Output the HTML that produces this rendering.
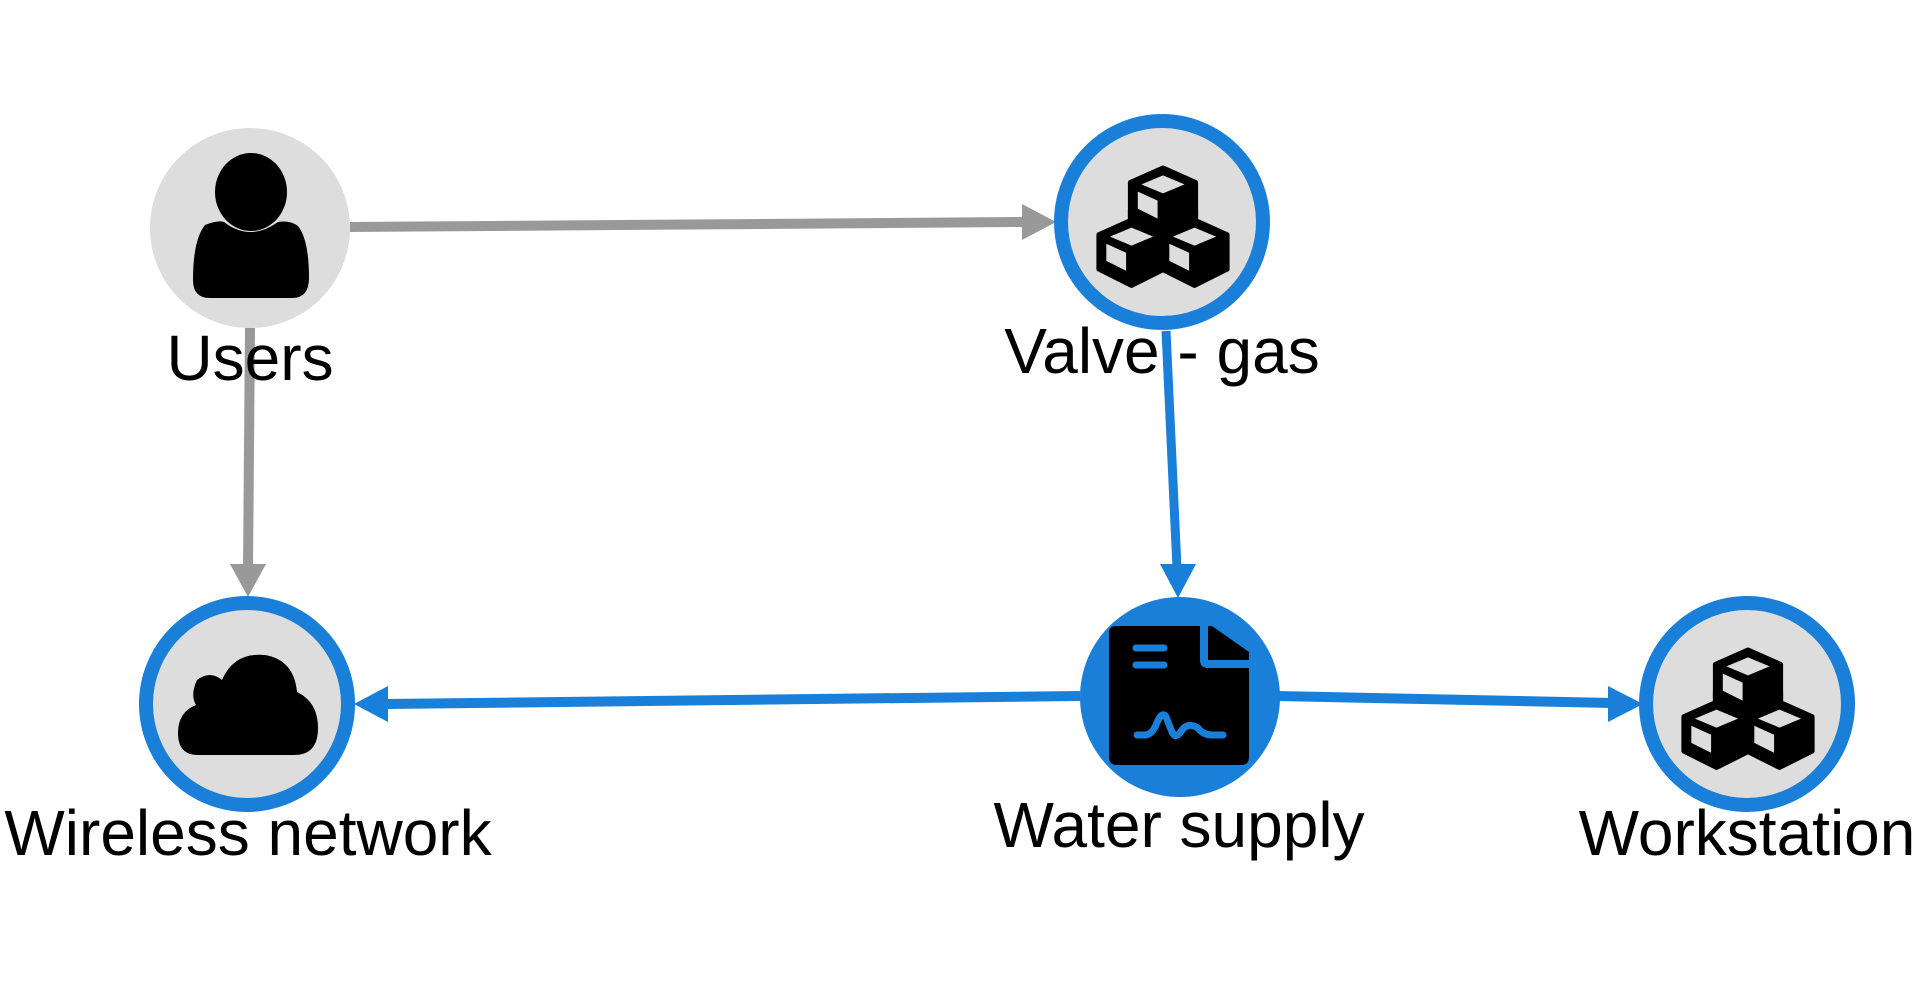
<!DOCTYPE html>
<html><head><meta charset="utf-8"><style>
html,body{margin:0;padding:0;background:#fff;}
svg{display:block;}
text{font-family:"Liberation Sans",Arial,sans-serif;font-size:64px;fill:#000;}
</style></head><body>
<svg width="1920" height="991" viewBox="0 0 1920 991" xmlns="http://www.w3.org/2000/svg">
<defs>
<g id="cubes">
  <g id="cube">
    <polygon points="0,-32 36,-16 36,22 0,40 -36,22 -36,-16" fill="#000" stroke="#000" stroke-width="6" stroke-linejoin="round"/>
    <polygon points="0,-24 24,-14 0,-4 -24,-14" fill="#ddd"/>
    <polygon points="-28,-6 -6,4 -6,24 -28,13" fill="#ddd"/>
  </g>
  <use href="#cube" x="0" y="-30"/>
  <use href="#cube" x="-35" y="28"/>
  <use href="#cube" x="35" y="28"/>
</g>
</defs>

<line x1="350" y1="227" x2="1025" y2="222" stroke="#999" stroke-width="10"/>
<polygon points="1056,222 1022,204 1022,240" fill="#999"/>
<line x1="250" y1="328" x2="248" y2="568" stroke="#999" stroke-width="10"/>
<polygon points="248,597 230,564 266,564" fill="#999"/>
<line x1="1166" y1="331" x2="1177" y2="568" stroke="#1a7fd8" stroke-width="9"/>
<polygon points="1178,598 1160,564 1196,564" fill="#1a7fd8"/>
<line x1="1080" y1="696" x2="385" y2="704" stroke="#1a7fd8" stroke-width="10"/>
<polygon points="354,704 388,686 388,722" fill="#1a7fd8"/>
<line x1="1277" y1="696" x2="1612" y2="703" stroke="#1a7fd8" stroke-width="10"/>
<polygon points="1643,704 1608,686 1608,722" fill="#1a7fd8"/>

<circle cx="250" cy="228" r="100" fill="#ddd"/>
<ellipse cx="251" cy="192" rx="39" ry="42" fill="#ddd"/>
<ellipse cx="251" cy="192" rx="36" ry="39" fill="#000"/>
<path d="M205,225 Q218,220 224,222 Q250,242 278,222 Q290,220 298,226 Q309,240 309,278 Q309,298 292,298 L210,298 Q193,298 193,280 Q193,240 205,225 Z" fill="#000"/>

<circle cx="1162" cy="222" r="101" fill="#ddd" stroke="#1a7fd8" stroke-width="14"/>
<use href="#cubes" transform="translate(1163,224) scale(0.9)"/>

<circle cx="247" cy="704" r="101" fill="#ddd" stroke="#1a7fd8" stroke-width="14"/>
<path d="M198,755 Q178,755 178,733 Q178,712 196,705 Q190,695 197,680 Q210,670 222,680 Q234,652 265,655 Q294,660 297,692 Q318,702 318,728 Q318,755 294,755 Z" fill="#000"/>

<circle cx="1180" cy="697" r="100" fill="#1a7fd8"/>
<path d="M1116,626 L1200,626 L1200,660 Q1200,668 1208,668 L1249,668 L1249,757 Q1249,765 1241,765 L1117,765 Q1109,765 1109,757 L1109,633 Q1109,626 1116,626 Z" fill="#000"/>
<path d="M1208,626 L1212,626 L1249,652 L1249,660 L1208,660 Z" fill="#000"/>
<line x1="1136" y1="648" x2="1164" y2="648" stroke="#1a7fd8" stroke-width="7" stroke-linecap="round"/>
<line x1="1136" y1="665" x2="1164" y2="665" stroke="#1a7fd8" stroke-width="7" stroke-linecap="round"/>
<path d="M1137,735 L1146,735 Q1152,734 1156,725 Q1162,710 1166,717 L1172,732 Q1176,740 1182,730 Q1188,722 1198,728 Q1203,735 1212,735 L1223,735" fill="none" stroke="#1a7fd8" stroke-width="7" stroke-linecap="round" stroke-linejoin="round"/>

<circle cx="1747" cy="704" r="101" fill="#ddd" stroke="#1a7fd8" stroke-width="14"/>
<use href="#cubes" transform="translate(1748,706) scale(0.9)"/>

<text x="250" y="380" text-anchor="middle">Users</text>
<text x="1162" y="373" text-anchor="middle">Valve - gas</text>
<text x="248" y="855" text-anchor="middle">Wireless network</text>
<text x="1179" y="847" text-anchor="middle">Water supply</text>
<text x="1747" y="855" text-anchor="middle">Workstation</text>
</svg>
</body></html>
